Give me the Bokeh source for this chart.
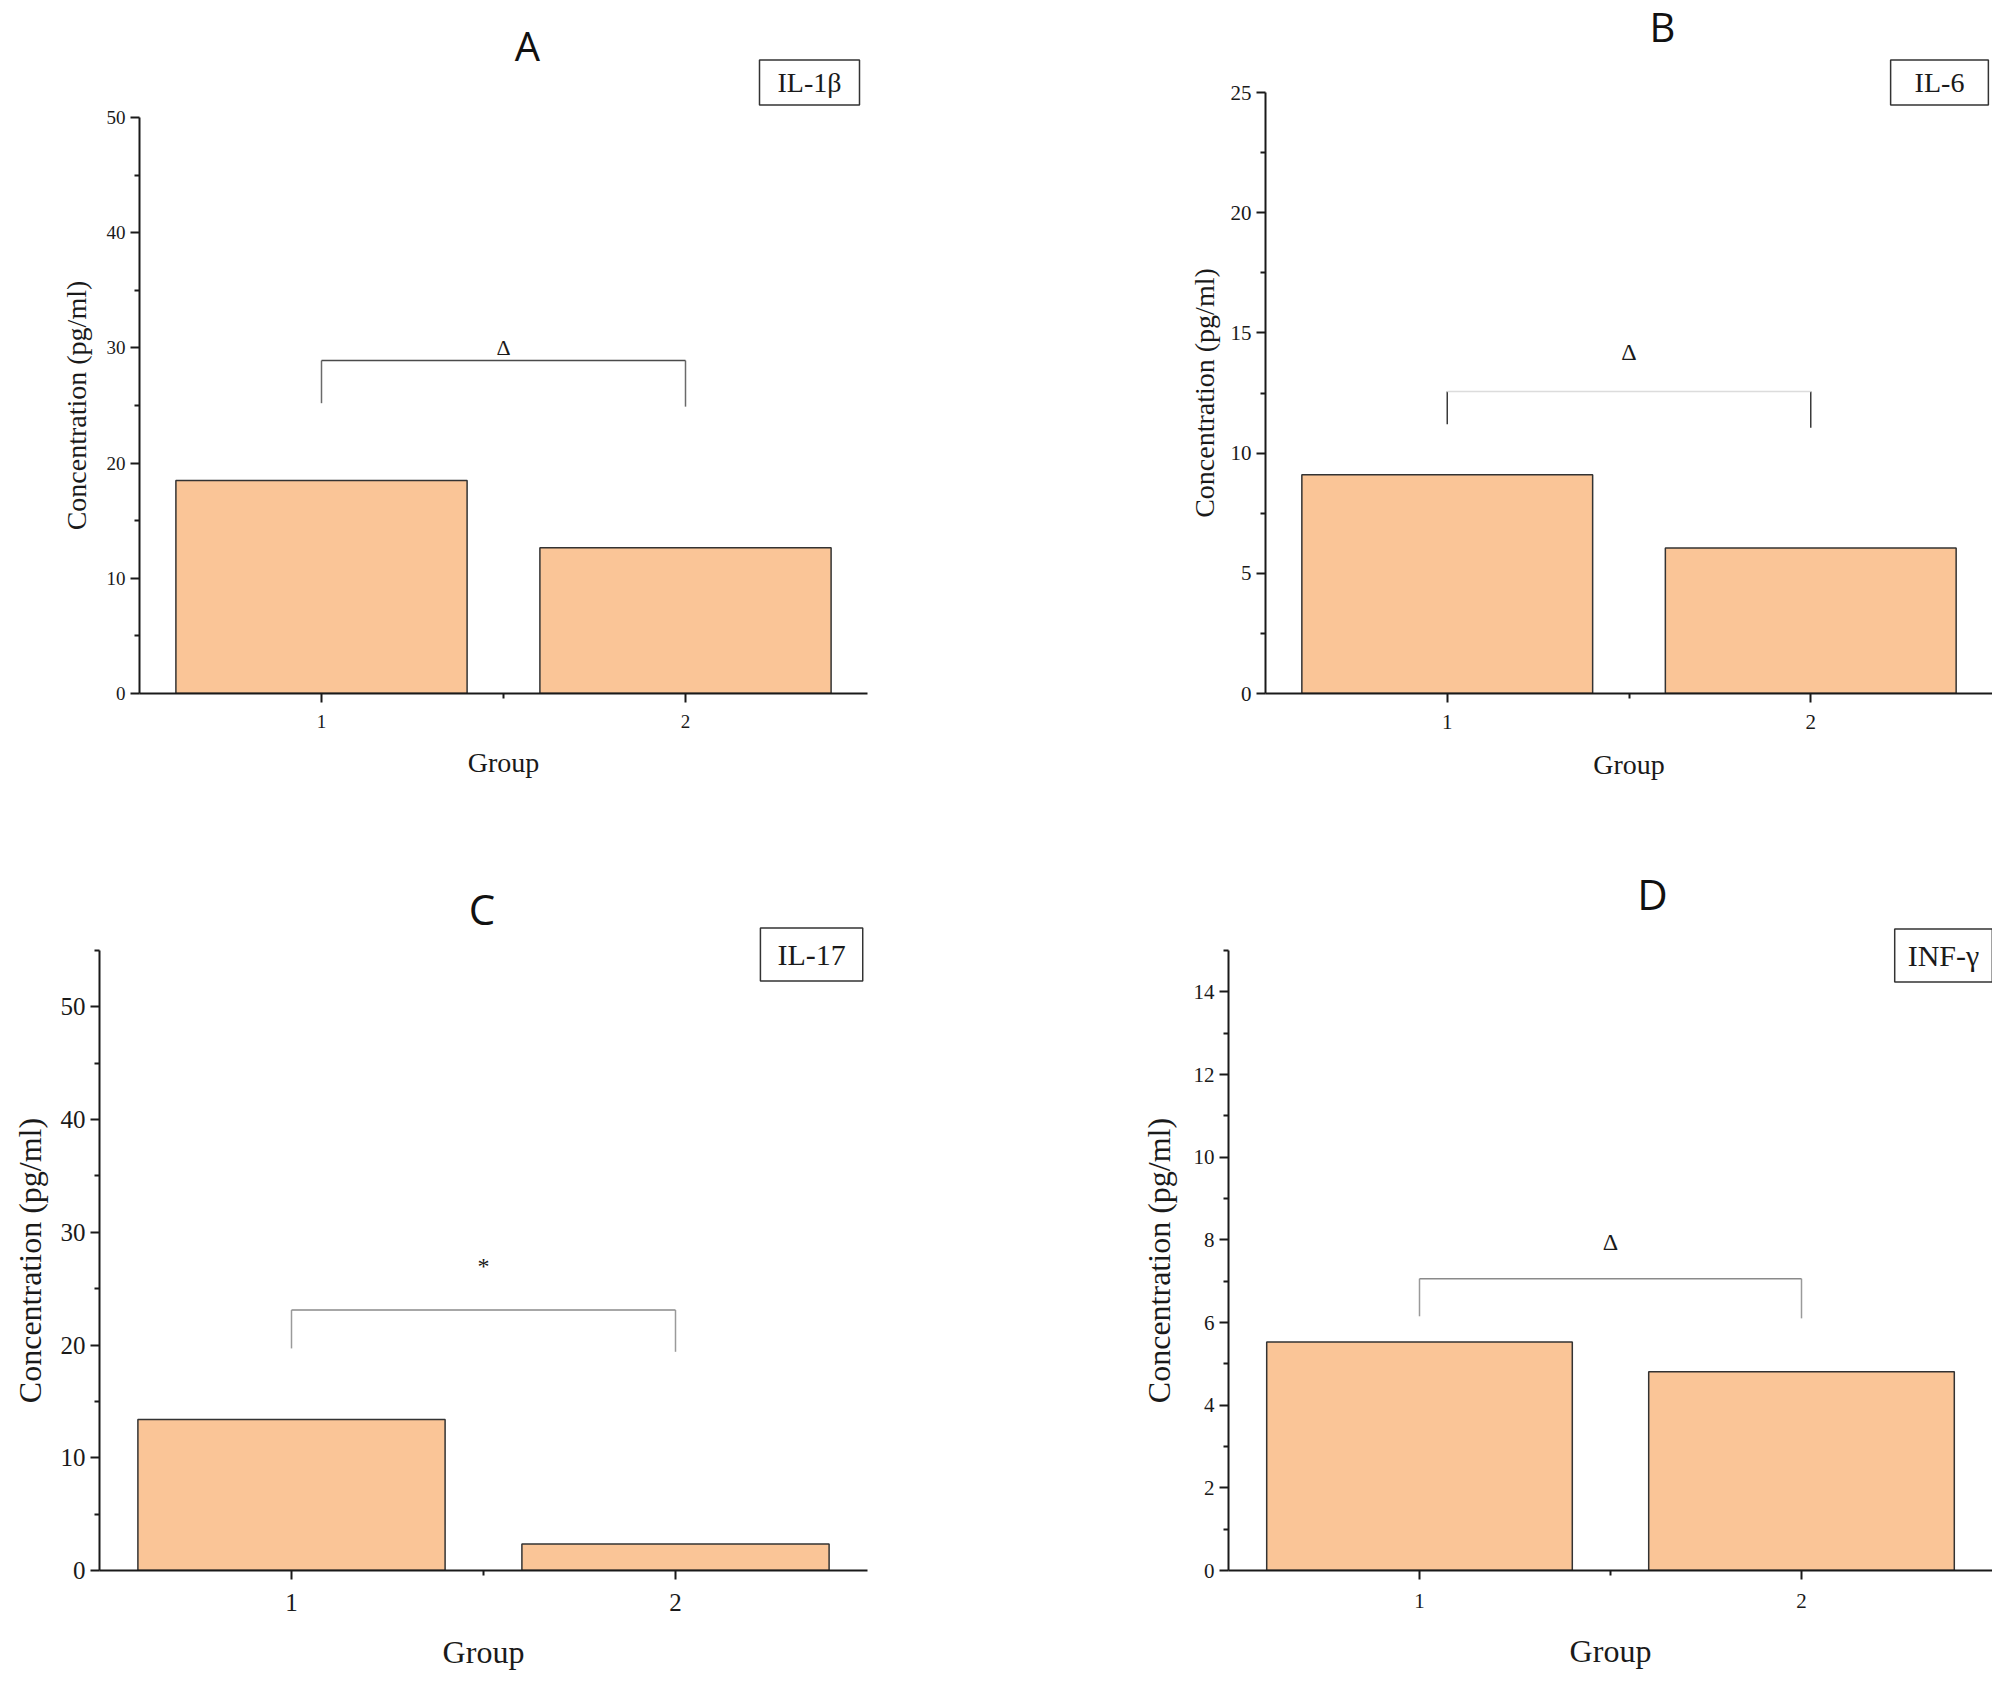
from bokeh.plotting import figure
from bokeh.layouts import column, row
from bokeh.models import FixedTicker, Label, Range1d, Title
from bokeh.core.properties import value
from bokeh.embed import file_html
from bokeh.resources import INLINE

# ---------------- data ----------------
groups = [1, 2]
il1b = [18.5, 12.65]
il6 = [9.1, 6.05]
il17 = [13.4, 2.35]
infg = [5.53, 4.81]

panel_letters = ["A", "B", "C", "D"]
cytokines = ["IL-1β", "IL-6", "IL-17", "INF-γ"]
sig_marks = ["Δ", "Δ", "*", "Δ"]
bracket_top = [28.9, 12.56, 23.1, 7.06]
bracket_leg_left = [25.2, 11.2, 19.7, 6.15]
bracket_leg_right = [24.9, 11.05, 19.4, 6.1]
mark_y = [30.0, 14.2, 27.0, 7.95]
y_max = [50, 25, 55, 15]
y_major = [[0, 10, 20, 30, 40, 50],
           [0, 5, 10, 15, 20, 25],
           [0, 10, 20, 30, 40, 50],
           [0, 2, 4, 6, 8, 10, 12, 14]]
y_minor = [[5, 15, 25, 35, 45],
           [2.5, 7.5, 12.5, 17.5, 22.5],
           [5, 15, 25, 35, 45, 55],
           [1, 3, 5, 7, 9, 11, 13, 15]]
x_label = "Group"
y_label = "Concentration (pg/ml)"

BAR_FILL = "#FAC597"
SERIF = "Liberation Serif"
SANS = "Open Sans"
YLABEL_EM = 8.916  # width of the y label in em (Times metrics)

# layout per panel: figure page origin/size, frame (page px), fonts, annotation page positions
panels = [
    dict(vals=il1b, fx=8, fy=8, w=992, h=838, L=147, R=875, T=125, B=701,
         tick_fs=19, lab_fs=28, grp_fs=28, ylab_sd=24, xtick_sd=12, xlab_sd=16,
         title_xy=(535, 53), title_fs=40, box_xy=(817, 90), box_fs=28, box_pad=(18, 7),
         top_col="#4a4a4a", leg_col="#6a6a6a", mark_fs=22),
    dict(vals=il6, fx=1000, fy=8, w=1000, h=838, L=1273, R=2000, T=100, B=701,
         tick_fs=21, lab_fs=28, grp_fs=28, ylab_sd=16, xtick_sd=12, xlab_sd=17,
         title_xy=(1670, 34), title_fs=40, box_xy=(1947, 90), box_fs=28, box_pad=(24, 7),
         top_col="#dcdcdc", leg_col="#3a3a3a", mark_fs=24),
    dict(vals=il17, fx=8, fy=846, w=992, h=834, L=106, R=875, T=958, B=1578,
         tick_fs=25, lab_fs=32, grp_fs=32, ylab_sd=19, xtick_sd=14, xlab_sd=20,
         title_xy=(489, 916), title_fs=42, box_xy=(819, 962), box_fs=30, box_pad=(17, 10),
         top_col="#8a8a8a", leg_col="#9a9a9a", mark_fs=24),
    dict(vals=infg, fx=1000, fy=846, w=1000, h=834, L=1236, R=2000, T=958, B=1578,
         tick_fs=21, lab_fs=32, grp_fs=32, ylab_sd=28, xtick_sd=14, xlab_sd=22,
         title_xy=(1660, 901), title_fs=42, box_xy=(1951, 963), box_fs=30, box_pad=(13, 10),
         top_col="#8a8a8a", leg_col="#9a9a9a", mark_fs=24),
]

figs = []
for i, cfg in enumerate(panels):
    ymax = y_max[i]
    L, R, T, B = cfg["L"], cfg["R"], cfg["T"], cfg["B"]
    fx, fy, w, h = cfg["fx"], cfg["fy"], cfg["w"], cfg["h"]
    # frame reaches the figure top so that titles and boxes above the axis stay inside
    y_end = ymax * (B - fy) / (B - T)
    p = figure(width=w, height=h, output_backend="svg", toolbar_location=None,
               x_range=Range1d(0.5, 2.5), y_range=Range1d(0, y_end),
               min_border_left=L - fx, min_border_right=fx + w - R,
               min_border_top=0, min_border_bottom=fy + h - B,
               outline_line_color=None, background_fill_color="white",
               border_fill_color="white")
    p.xgrid.visible = False
    p.ygrid.visible = False

    # axes
    p.xaxis.ticker = FixedTicker(ticks=groups, minor_ticks=[1.5])
    p.yaxis.ticker = FixedTicker(ticks=y_major[i], minor_ticks=y_minor[i])
    p.yaxis.bounds = (0, ymax)
    for ax in (p.xaxis, p.yaxis):
        ax.axis_line_width = 2
        ax.axis_line_color = "#1a1a1a"
        ax.major_tick_line_color = "#1a1a1a"
        ax.major_tick_line_width = 2
        ax.minor_tick_line_color = "#1a1a1a"
        ax.minor_tick_line_width = 2
        ax.major_tick_in = 0
        ax.major_tick_out = 9
        ax.minor_tick_in = 0
        ax.minor_tick_out = 5
        ax.major_label_text_font = SERIF
        ax.major_label_text_font_size = f"{cfg['tick_fs']}px"
        ax.major_label_text_color = "#1a1a1a"
        ax.axis_label_text_font = SERIF
        ax.axis_label_text_font_style = "normal"
        ax.axis_label_text_color = "#1a1a1a"
    p.xaxis.axis_label = x_label
    p.xaxis.axis_label_text_font_size = f"{cfg['grp_fs']}px"
    p.xaxis.major_label_standoff = cfg["xtick_sd"]
    p.yaxis.major_label_standoff = 5
    p.xaxis.axis_label_standoff = cfg["xlab_sd"]

    # y label centred on the drawn axis (0..ymax), not on the taller frame
    lab_len = YLABEL_EM * cfg["lab_fs"]
    start_off = (B - T) / 2 - lab_len / 2
    p.add_layout(Title(text=y_label, align="left", offset=start_off,
                       standoff=cfg["ylab_sd"], text_font=SERIF,
                       text_font_size=f"{cfg['lab_fs']}px", text_font_style="normal",
                       text_color="#1a1a1a"), "left")

    # bars
    p.vbar(x=groups, top=cfg["vals"], width=0.8, bottom=0,
           fill_color=BAR_FILL, line_color="#333333", line_width=1.5)

    # significance bracket
    p.segment(x0=groups, y0=[bracket_leg_left[i], bracket_leg_right[i]],
              x1=groups, y1=[bracket_top[i], bracket_top[i]],
              line_color=cfg["leg_col"], line_width=1.5)
    p.segment(x0=[groups[0]], y0=[bracket_top[i]], x1=[groups[1]], y1=[bracket_top[i]],
              line_color=cfg["top_col"], line_width=1.5)
    p.text(x=[(groups[0] + groups[1]) / 2], y=[mark_y[i]], text=[sig_marks[i]],
           text_font=value(SERIF), text_font_size=f"{cfg['mark_fs']}px",
           text_align="center", text_baseline="middle", text_color="#1a1a1a")

    def to_data(px, py):
        return 0.5 + (px - L) / (R - L) * 2.0, (B - py) / (B - T) * ymax

    tx, ty = to_data(*cfg["title_xy"])
    p.add_layout(Label(x=tx, y=ty, text=panel_letters[i], text_align="center",
                       text_baseline="middle", text_font=SANS,
                       text_font_size=f"{cfg['title_fs']}px", text_color="#111111"))
    bx, by = to_data(*cfg["box_xy"])
    ph, pv = cfg["box_pad"]
    p.add_layout(Label(x=bx, y=by, text=cytokines[i], text_align="center",
                       text_baseline="middle", text_font=SERIF,
                       text_font_size=f"{cfg['box_fs']}px", text_color="#1a1a1a",
                       border_line_color="#333333", border_line_width=1.5,
                       background_fill_color="white",
                       padding=dict(left=ph, right=ph, top=pv, bottom=pv)))
    figs.append(p)

layout = column(row(figs[0], figs[1]), row(figs[2], figs[3]))
open("out.html", "w").write(file_html(layout, INLINE))
